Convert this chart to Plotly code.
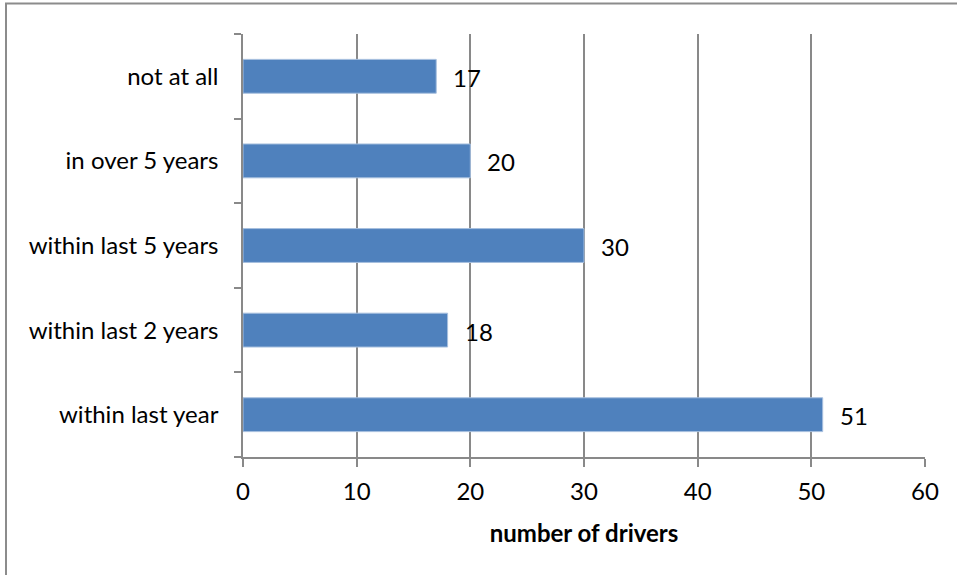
import plotly.graph_objects as go

categories = ["within last year", "within last 2 years", "within last 5 years", "in over 5 years", "not at all"]
values = [51, 18, 30, 20, 17]
x_ticks = [0, 10, 20, 30, 40, 50, 60]
x_title = "number of drivers"

FONT = "Lato, Carlito, Calibri, sans-serif"
FS = 24
GRID = "#898989"

W, H = 957, 575
L, R, T, B = 243, 32, 34, 118
PW, PH = W - L - R, H - T - B

fig = go.Figure()
fig.add_trace(go.Bar(
    y=categories, x=values, orientation="h",
    marker=dict(color="#4F81BD", line=dict(color="#A7BFDE", width=1)),
    hoverinfo="x+y",
))

for c, v in zip(categories, values):
    fig.add_annotation(x=v, y=c, text=str(v), showarrow=False, xanchor="left",
                       xshift=15, yshift=-1, font=dict(family=FONT, size=FS, color="#000000"))

fig.update_layout(
    width=W, height=H,
    margin=dict(l=L, r=R, t=T, b=B),
    paper_bgcolor="white", plot_bgcolor="white",
    bargap=0.6, showlegend=False,
    font=dict(family=FONT, size=FS, color="#000000"),
    shapes=[dict(type="rect", xref="paper", yref="paper",
                 x0=(6 - L) / PW, x1=1.2,
                 y0=-0.5, y1=1 + (T - 3.5) / PH,
                 line=dict(color="#8C8C8C", width=2), layer="below")],
)
fig.update_xaxes(
    range=[0, 60], tickvals=x_ticks, ticktext=[str(t) for t in x_ticks],
    showgrid=True, gridcolor=GRID, gridwidth=1.5,
    showline=True, linecolor=GRID, linewidth=1.5,
    ticks="outside", ticklen=8, tickcolor=GRID, tickwidth=1.5,
    ticklabelstandoff=4,
    zeroline=False,
    tickfont=dict(family=FONT, size=FS),
    title=dict(text="<b>" + x_title + "</b>", font=dict(family=FONT, size=FS), standoff=22),
)
fig.update_yaxes(
    categoryorder="array", categoryarray=categories,
    showgrid=False, showline=True, linecolor=GRID, linewidth=1.5,
    ticks="outside", tickson="boundaries", ticklen=7, tickcolor=GRID, tickwidth=1.5,
    ticklabelstandoff=18,
    tickfont=dict(family=FONT, size=FS),
)

fig.write_html("out.html", config={"displayModeBar": False},
               post_script="document.body.style.margin='0';")
